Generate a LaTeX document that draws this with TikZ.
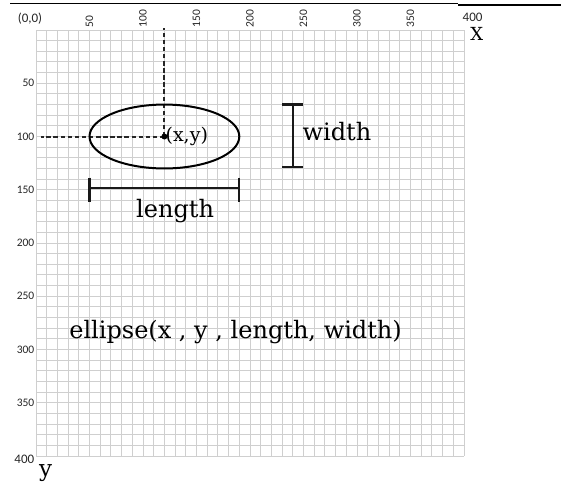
\documentclass[tikz,border=0pt]{standalone}
\usepackage{fontspec}
\setmainfont{DejaVu Serif}
\newfontfamily\lblfont{Carlito}
\usepackage{tikz}
\usetikzlibrary{positioning}

\begin{document}
\begin{tikzpicture}[x=1pt,y=-1pt,
  ticklbl/.style={font=\lblfont\fontsize{11.5}{13}\selectfont,inner sep=1pt,text=black!85},
  bigtxt/.style={font=\fontsize{24}{28}\selectfont,inner sep=0pt},
  capbar/.style={line width=2.2pt,black!90},
  guide/.style={line width=2pt,dash pattern=on 4.5pt off 2.6pt,black!85}]
\useasboundingbox (0,0) rectangle (561,483);
\fill[white] (0,0) rectangle (561,483);
\coordinate (ruleA) at (10,3.3);
\coordinate (ruleB) at (458,3.3);
\coordinate (ruleC) at (458,4.6);
\coordinate (ruleD) at (561,4.6);
\draw[line width=1.5pt] (ruleA) -- (ruleB);
\draw[line width=2.2pt] (ruleC) -- (ruleD);
\begin{scope}[shift={(36pt,-30pt)},x=1.07pt,y=-1.065pt]
% grid
\foreach \i in {0,10,...,400}{
  \draw[gray!38,line width=1pt] (\i,0) -- (\i,400);
  \draw[gray!38,line width=1pt] (0,\i) -- (400,\i);
}
\foreach \v in {50,100,...,350}{
  \node[ticklbl,rotate=90,anchor=west] (top\v) at (\v,-1.5) {\v};
  \node[ticklbl,anchor=east] (left\v) at (-0.5,\v) {\v};
}
\node[ticklbl,font=\lblfont\fontsize{13}{15}\selectfont] (origin) at (-5.6,-10.3) {(0,0)};
\node[ticklbl,font=\lblfont\fontsize{13}{15}\selectfont] (xmax) at (408,-12.2) {400};
\node[ticklbl,font=\lblfont\fontsize{13}{15}\selectfont,anchor=east] (ymax) at (-0.5,403) {400};
\node[font=\fontsize{18}{20}\selectfont,inner sep=0pt] (xname) at (412,3.8) {X};
\node[font=\fontsize{23}{26}\selectfont,inner sep=0pt,anchor=base] (yname) at (9,419.7) {y};
% ellipse with centre
\coordinate (ctr) at (120,100);
\coordinate (topend) at (120,-2);
\coordinate (leftend) at (5,100);
\draw[guide] (ctr) -- (topend);
\draw[guide] (ctr) -- (leftend);
\draw[line width=2pt] (ctr) ellipse [x radius=70, y radius=30];
\fill (ctr) circle[radius=3pt];
\node[right=1pt of ctr,font=\fontsize{19}{22}\selectfont,inner sep=0pt] (xy) {(x,y)};
% length
\coordinate (lenA) at (50,148);
\coordinate (lenB) at (190,148);
\draw[capbar] (lenA) -- (lenB);
\draw[capbar] ([yshift=10pt]lenA) -- ([yshift=-14pt]lenA);
\draw[capbar] ([yshift=10pt]lenB) -- ([yshift=-14pt]lenB);
\node[bigtxt,anchor=base] (lenlbl) at (130,176.5) {length};
% width
\coordinate (widA) at (240,70);
\coordinate (widB) at (240,128.5);
\draw[capbar] (widA) -- (widB);
\draw[capbar] ([xshift=-10.5pt]widA) -- ([xshift=10.5pt]widA);
\draw[capbar] ([xshift=-10.5pt]widB) -- ([xshift=10.5pt]widB);
\node[bigtxt,anchor=base west] (widlbl) at (249,103.3) {width};
\node[bigtxt,anchor=base] (call) at (186.5,290) {ellipse(x , y , length, width)};
\end{scope}
\end{tikzpicture}
\end{document}
